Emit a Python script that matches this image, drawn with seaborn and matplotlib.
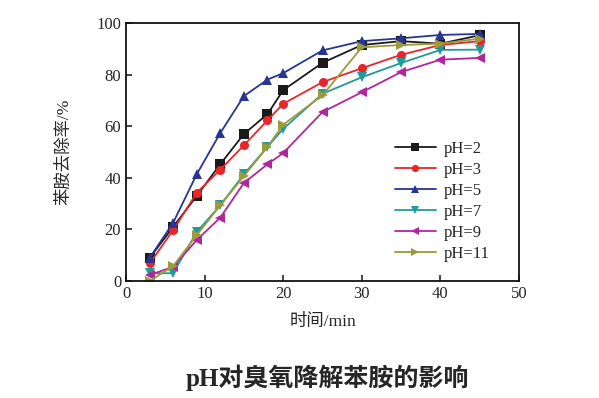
import matplotlib
matplotlib.use('Agg')
import matplotlib.pyplot as plt
import seaborn as sns
import pandas as pd

# time points (min)
t = [3, 6, 9, 12, 15, 18, 20, 25, 30, 35, 40, 45]

# aniline removal (%)
ph2 = [8.9, 21, 33, 45.3, 57, 64.7, 74, 84.6, 91.5, 93, 92, 95.3]
ph3 = [6.8, 19.7, 34.2, 43.2, 52.6, 62.3, 68.7, 77.1, 82.5, 87.7, 91.5, 93]
ph5 = [8.9, 22.6, 41.4, 57.4, 71.7, 78.1, 80.6, 89.4, 93, 94.1, 95.4, 95.8]
ph7 = [3, 3, 19, 29.4, 41.4, 52, 59, 72.6, 79, 84.5, 89.6, 89.7]
ph9 = [2.3, 5.5, 15.9, 24.6, 38, 45.3, 49.6, 65.5, 73.2, 81, 85.8, 86.5]
ph11 = [0, 5.8, 17.8, 29.4, 40.7, 52, 60.6, 72, 90.6, 91.5, 92, 94]

labels = ['pH=2', 'pH=3', 'pH=5', 'pH=7', 'pH=9', 'pH=11']
series = [ph2, ph3, ph5, ph7, ph9, ph11]
colors = ['#1a1a1a', '#e8252a', '#283593', '#1f9b9b', '#b0279c', '#9d9a3a']
markers = ['s', 'o', '^', 'v', '<', '>']

df = pd.DataFrame({
    'time': t * len(labels),
    'removal': sum(series, []),
    'pH': [lab for lab in labels for _ in t],
})

sns.set_style('ticks')
plt.rcParams['font.family'] = ['Liberation Serif', 'Noto Sans CJK SC']
plt.rcParams['xtick.direction'] = 'in'
plt.rcParams['ytick.direction'] = 'in'

fig = plt.figure(figsize=(5.99, 3.98), dpi=100)
ax = fig.add_axes([0.2104, 0.294, 0.656, 0.648])

sns.lineplot(data=df, x='time', y='removal', hue='pH', style='pH',
             palette=colors, markers=markers, dashes=False,
             markersize=6.5, markeredgewidth=0, linewidth=1.3, ax=ax)

ax.set_xlim(0, 50)
ax.set_ylim(0, 100)
ax.set_xticks(range(0, 51, 10))
ax.set_yticks(range(0, 101, 20))
ax.tick_params(labelsize=12, length=4, width=1.2, top=False, right=False)
for s in ax.spines.values():
    s.set_visible(True)
    s.set_linewidth(1.3)
    s.set_color('#111111')

ax.set_xlabel('时间/min', fontsize=12.5, labelpad=9)
ax.set_ylabel('苯胺去除率/%', fontsize=12.5, labelpad=17)

leg = ax.legend(loc='lower right', bbox_to_anchor=(0.955, 0.028), frameon=False,
                fontsize=12, handlelength=2.5, labelspacing=0.3,
                handletextpad=0.45, borderaxespad=0.3, markerscale=0.8)

fig.text(0.546, 0.05, 'pH对臭氧降解苯胺的影响', ha='center', va='center',
         fontsize=18, fontweight='bold')

fig.savefig('out.png', dpi=100)
